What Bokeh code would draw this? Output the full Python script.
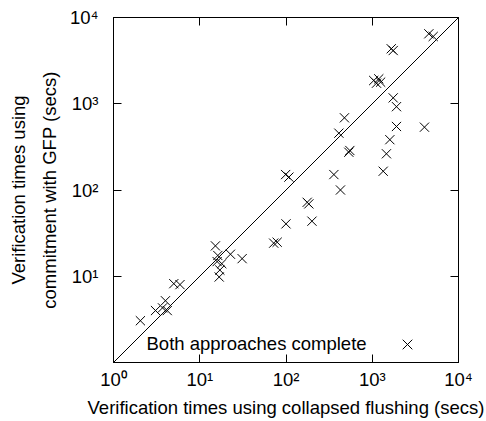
from bokeh.plotting import figure
from bokeh.models import (Range1d, FixedTicker, LogAxis, Label, Legend, LegendItem,
                          ColumnDataSource, Title)
from bokeh.embed import file_html
from bokeh.resources import INLINE

# ---- data ----
collapsed = [2.05, 3.07, 3.7, 4.0, 4.2, 5.0, 5.9,
             15.2, 16.2, 15.9, 18.0, 17.1, 16.8, 22.7, 31,
             72, 79, 100, 200, 176, 184, 99, 108,
             359, 428, 410, 476, 550, 535,
             1340, 1460, 1600, 1910, 4030, 1910, 1750,
             1040, 1190, 1120, 1250, 1660, 1750, 4530, 5090]
gfp = [3.05, 4.0, 4.3, 5.2, 4.0, 8.2, 8.0,
       22.5, 17.4, 14.8, 14.0, 11.8, 9.8, 18.0, 16,
       24.2, 24.8, 40.5, 43.5, 72, 69, 151, 141,
       151, 100, 456, 687, 287, 274,
       165, 263, 383, 545, 535, 925, 1170,
       1860, 1945, 1730, 1780, 4340, 4140, 6470, 6025]
diag = [1, 10000]
x_ticks = [1, 10, 100, 1000, 10000]
x_tick_labels = ["10\u2070", "10\u00b9", "10\u00b2", "10\u00b3", "10\u2074"]
y_ticks = [1, 10, 100, 1000, 10000]
y_tick_labels = ["", "10\u00b9", "10\u00b2", "10\u00b3", "10\u2074"]
x_title = "Verification times using collapsed flushing (secs)"
y_title = ["Verification times using", "commitment with GFP (secs)"]
legend_text = "Both approaches complete"

FONT = "Liberation Sans"
FS = "18.5px"

p = figure(width=484, height=419, frame_width=345, frame_height=345,
           x_axis_type="log", y_axis_type="log",
           x_range=Range1d(1, 10000), y_range=Range1d(1, 10000),
           output_backend="svg", toolbar_location=None,
           min_border_left=113, min_border_right=26,
           min_border_top=17, min_border_bottom=57)
p.grid.visible = False
p.outline_line_color = "black"
p.outline_line_width = 1
p.background_fill_color = "white"
p.border_fill_color = "white"

src = ColumnDataSource(dict(x=collapsed, y=gfp))

p.line(diag, diag, line_color="black", line_width=1)
r = p.scatter("x", "y", source=src, marker="x", size=13,
              line_color="black", line_width=1)

def style_axis(ax, ticks, labels, standoff, font_size):
    ax.ticker = FixedTicker(ticks=ticks, minor_ticks=[])
    ax.major_label_overrides = {t: l for t, l in zip(ticks, labels)}
    ax.major_tick_in = 8
    ax.major_tick_out = 0
    ax.major_tick_line_color = "black"
    ax.minor_tick_line_color = None
    ax.axis_line_color = "black"
    ax.major_label_standoff = standoff
    ax.major_label_text_font = FONT
    ax.major_label_text_font_size = font_size
    ax.major_label_text_color = "black"

style_axis(p.xaxis[0], x_ticks, x_tick_labels, 6, FS)
style_axis(p.yaxis[0], y_ticks, y_tick_labels, 15, FS)
p.xaxis[0].axis_label = x_title
p.xaxis[0].axis_label_text_font = FONT
p.xaxis[0].axis_label_text_font_size = FS
p.xaxis[0].axis_label_text_font_style = "normal"
p.xaxis[0].axis_label_text_color = "black"
p.xaxis[0].axis_label_standoff = 4

top = LogAxis()
right = LogAxis()
style_axis(top, x_ticks, [""] * 5, 0, "1px")
style_axis(right, y_ticks, [""] * 5, 0, "1px")
p.add_layout(top, "above")
p.add_layout(right, "right")

# y title: two lines (closest to the axis first)
for txt, so in [(y_title[1], 14), (y_title[0], 1)]:
    p.add_layout(Title(text=txt, align="center", text_font=FONT, text_font_size=FS,
                       text_font_style="normal", text_color="black", standoff=so),
                 "left")

# legend: text on the left, marker on the right (gnuplot style)
p.add_layout(Label(x=33, x_units="screen", y=19, y_units="screen", text=legend_text,
                   text_align="left", text_baseline="middle",
                   text_font=FONT, text_font_size=FS, text_color="black"))
leg = Legend(items=[LegendItem(label=" ", renderers=[r])], location=(277, 1),
             padding=0, margin=0, spacing=0, glyph_width=34, glyph_height=34,
             label_standoff=0, label_width=1, label_height=1,
             label_text_font_size="1px", border_line_color=None,
             background_fill_alpha=0)
p.add_layout(leg)

open("out.html", "w").write(file_html(p, INLINE))
